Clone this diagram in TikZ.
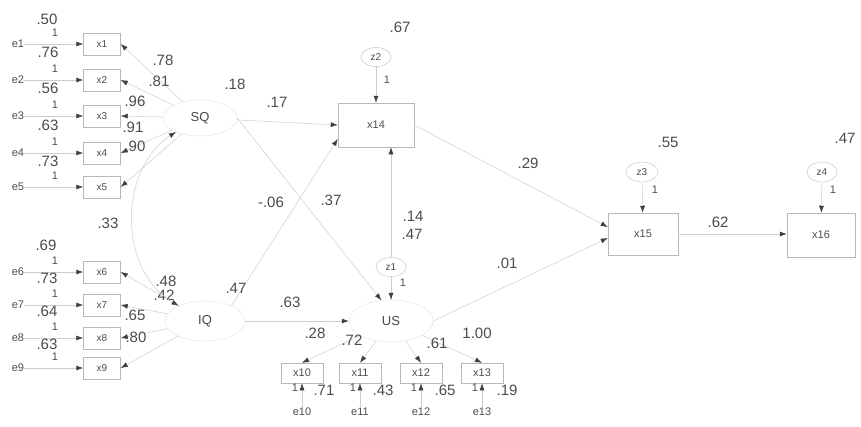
\documentclass[tikz,border=0pt]{standalone}
\usepackage{fontspec}
\setmainfont{Liberation Sans}
\usetikzlibrary{arrows.meta,shapes.geometric}
\begin{document}
\begin{tikzpicture}[x=1pt,y=-1pt,
 lbl/.style={text=black!70,inner sep=0pt},
 num/.style={lbl,font=\fontsize{15}{15}\selectfont},
 onelbl/.style={lbl,font=\fontsize{11}{11}\selectfont},
 tinylbl/.style={lbl,font=\fontsize{11}{11}\selectfont},
 obs/.style={draw=black!28,line width=0.5pt,minimum width=37pt,minimum height=22pt,inner sep=0pt,font=\fontsize{10}{10}\selectfont,text=black!70},
 bigobs/.style={obs,minimum width=76pt,minimum height=44pt,font=\fontsize{11}{11}\selectfont},
 lat/.style={ellipse,draw=black!10,line width=0.5pt,minimum width=74pt,minimum height=36pt,inner sep=0pt,font=\fontsize{13}{13}\selectfont,text=black!72},
 res/.style={ellipse,draw=black!22,fill=white,line width=0.5pt,minimum width=30pt,minimum height=19pt,inner sep=0pt,font=\fontsize{10}{10}\selectfont,text=black!70},
 pth/.style={draw=black!20,line width=0.5pt,-{Latex[length=7pt,width=5pt,color=black!75]}},
 cov/.style={draw=black!20,line width=0.5pt,{Latex[length=7pt,width=5pt,color=black!75]}-{Latex[length=7pt,width=5pt,color=black!75]}},
]
\useasboundingbox (0,0) rectangle (861,426);

% ---------- left indicators ----------
\foreach \i/\y in {1/44,2/80,3/116,4/153,5/187,6/272,7/305,8/338,9/368}{
  \node[tinylbl] (e\i) at (18,\y) {e\i};
  \node[obs] (x\i) at (102,\y) {x\i};
  \node[onelbl] (o\i) at (55,\y-11) {1};
}
\foreach \i in {1,...,9}{\draw[pth] (e\i) -- (x\i);}

\node[num] (v1) at (47,19) {.50};
\node[num] (v2) at (48,52) {.76};
\node[num] (v3) at (48,88) {.56};
\node[num] (v4) at (48,125) {.63};
\node[num] (v5) at (48,161) {.73};
\node[num] (v6) at (46,245) {.69};
\node[num] (v7) at (47,278) {.73};
\node[num] (v8) at (47,311) {.64};
\node[num] (v9) at (47,344) {.63};

% ---------- latents ----------
\node[lat] (SQ) at (200,118) {SQ};
\node[lat,minimum width=80pt,minimum height=40pt] (IQ) at (205,321) {IQ};

\foreach \i in {1,...,5}{\draw[pth] (SQ) -- (x\i.east);}
\foreach \i in {6,...,9}{\draw[pth] (IQ) -- (x\i.east);}

\node[num] (l1) at (163,60) {.78};
\node[num] (l2) at (159,81) {.81};
\node[num] (l3) at (135,101) {.96};
\node[num] (l4) at (133,127) {.91};
\node[num] (l5) at (135,146) {.90};
\node[num] (l6) at (166,281) {.48};
\node[num] (l7) at (164,295) {.42};
\node[num] (l8) at (135,315) {.65};
\node[num] (l9) at (136,337) {.80};

\draw[cov] (SQ.210) .. controls (118,170) and (118,270) .. (IQ.150);
\node[num] (c1) at (108,223) {.33};

% ---------- middle ----------
\node[bigobs] (x14) at (376,125) {x14};
\node[lat,minimum width=84pt,minimum height=42pt] (US) at (391,321) {US};
\draw[pth] (US.north) -- (US.north |- x14.south);
\node[res] (z1) at (391,267) {z1};
\draw[pth] (z1) -- (US);
\node[onelbl] (oz1) at (403,283) {1};
\node[num] (p14) at (413,216) {.14};
\node[num] (r47) at (412,234) {.47};

\node[res] (z2) at (376,57) {z2};
\draw[pth] (z2) -- (x14);
\node[onelbl] (oz2) at (387,80) {1};
\node[num] (r67) at (400,27) {.67};

\draw[pth] (SQ) -- (x14.west);
\draw[pth] (IQ.30) -- (x14.200);
\draw[pth] (SQ.east) -- (US.115);
\draw[pth] (IQ) -- (US);

\node[num] (n18) at (235,84) {.18};
\node[num] (n17) at (277,102) {.17};
\node[num] (n06) at (271,202) {-.06};
\node[num] (n37) at (331,200) {.37};
\node[num] (n47) at (236,288) {.47};
\node[num] (n63) at (290,302) {.63};

% ---------- right ----------
\node[bigobs,minimum width=70pt,minimum height=42pt] (x15) at (643,234) {x15};
\node[bigobs,minimum width=68pt,minimum height=44pt] (x16) at (821,235) {x16};
\draw[pth] (x15.east) -- (x15.east -| x16.west);
\node[num] (n62) at (718,222) {.62};

\node[res,minimum width=32pt,minimum height=20pt] (z3) at (642,172) {z3};
\node[res,minimum width=30pt,minimum height=20pt] (z4) at (822,172) {z4};
\draw[pth] (z3) -- (x15);
\draw[pth] (z4) -- (x16);
\node[onelbl] (oz3) at (655,190) {1};
\node[onelbl] (oz4) at (833,190) {1};
\node[num] (r55) at (668,142) {.55};
\node[num] (r47b) at (845,138) {.47};

\draw[pth] (x14.east) -- ([yshift=7pt]x15.west);
\draw[pth] (US.east) -- ([yshift=-4pt]x15.west);
\node[num] (n29) at (528,163) {.29};
\node[num] (n01) at (507,263) {.01};

% ---------- bottom indicators ----------
\foreach \i/\x in {10/302,11/360,12/421,13/482}{
  \node[obs,minimum width=42pt,minimum height=20pt,font=\fontsize{11}{11}\selectfont] (x\i) at (\x,373) {x\i};
  \node[tinylbl] (e\i) at (\x,412) {e\i};
  \node[onelbl] (o\i) at (\x-7,388) {1};
}
\foreach \i in {10,...,13}{
  \draw[pth] (e\i) -- (x\i);
  \draw[pth] (US) -- (x\i.north);
}
\node[num] (n28) at (315,333) {.28};
\node[num] (n72) at (352,340) {.72};
\node[num] (n61) at (437,343) {.61};
\node[num] (n100) at (477,333) {1.00};
\node[num] (n71) at (324,390) {.71};
\node[num] (n43) at (383,390) {.43};
\node[num] (n65) at (445,390) {.65};
\node[num] (n19) at (507,390) {.19};
\end{tikzpicture}
\end{document}
